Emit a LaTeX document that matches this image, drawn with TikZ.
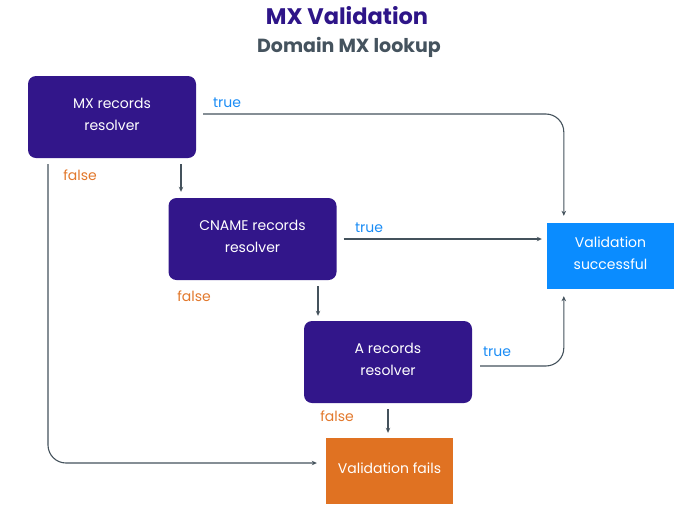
\documentclass[tikz,border=0pt]{standalone}
\usepackage{fontspec}
\setmainfont{Poppins}
\usetikzlibrary{arrows.meta}
\definecolor{boxpurple}{HTML}{32168A}
\definecolor{titlepurple}{HTML}{2E1588}
\definecolor{subgray}{HTML}{45535E}
\definecolor{failorange}{HTML}{E07222}
\definecolor{labelorange}{HTML}{E2782C}
\definecolor{okblue}{HTML}{0A8CFF}
\definecolor{labelblue}{HTML}{1A8CF5}
\definecolor{linegray}{HTML}{44525C}
\tikzset{
  resolver/.style={fill=boxpurple, rounded corners=8pt, minimum width=168pt, minimum height=82pt,
    text=white, align=center, font=\fontsize{14}{22}\selectfont, inner sep=0pt, text depth=6pt},
  result/.style={minimum width=127pt, minimum height=66pt, text=white, align=center,
    font=\fontsize{14}{22}\selectfont, inner sep=0pt, text depth=6pt},
  conn/.style={draw=linegray, line width=1.1pt, -{Stealth[length=5pt,width=4.5pt]}},
  truelbl/.style={text=labelblue, font=\fontsize{14}{15}\selectfont, inner sep=0pt},
  falselbl/.style={text=labelorange, font=\fontsize{14}{15}\selectfont, inner sep=0pt},
}
\begin{document}
\begin{tikzpicture}[x=1pt,y=-1pt]
\useasboundingbox (0,0) rectangle (700,512);
\node[text=titlepurple, font=\fontsize{22.5}{26}\selectfont\bfseries] (title) at (347,16) {MX Validation};
\node[text=subgray, font=\fontsize{19}{22}\selectfont\bfseries] (subtitle) at (349,47.5) {Domain MX lookup};

\node[resolver] (mx) at (112,117) {MX records\\resolver};
\node[resolver] (cname) at (252.5,239) {CNAME records\\resolver};
\node[resolver] (arec) at (388,362) {A records\\resolver};
\node[result, fill=failorange] (fail) at (389.5,471) {Validation fails};
\node[result, fill=okblue] (succ) at (610.5,256) {Validation\\successful};

\draw[conn, rounded corners=18pt] ([xshift=7pt,yshift=3pt]mx.east) -| ([xshift=17pt,yshift=7pt]succ.north west);
\draw[conn] ([xshift=69pt,yshift=-6pt]mx.south) -- ([xshift=-71.5pt,yshift=6pt]cname.north);
\draw[conn, rounded corners=18pt] ([xshift=-64pt,yshift=-6pt]mx.south) |- ([xshift=-9pt,yshift=8pt]fail.west);
\draw[conn] ([xshift=7pt]cname.east) -- ([xshift=-5pt,yshift=17pt]succ.west);
\draw[conn] ([xshift=65.5pt,yshift=-6pt]cname.south) -- ([xshift=-70pt,yshift=5pt]arec.north);
\draw[conn, rounded corners=18pt] ([xshift=8pt,yshift=-4pt]arec.east) -| ([xshift=17pt,yshift=-7pt]succ.south west);
\draw[conn] ([yshift=-6pt]arec.south) -- ([xshift=-1.5pt,yshift=5pt]fail.north);

\node[truelbl] (t1) at (227,103) {true};
\node[falselbl] (f1) at (80,175) {false};
\node[truelbl] (t2) at (369,228) {true};
\node[falselbl] (f2) at (194,296) {false};
\node[truelbl] (t3) at (497,352) {true};
\node[falselbl] (f3) at (337,416) {false};
\end{tikzpicture}
\end{document}
